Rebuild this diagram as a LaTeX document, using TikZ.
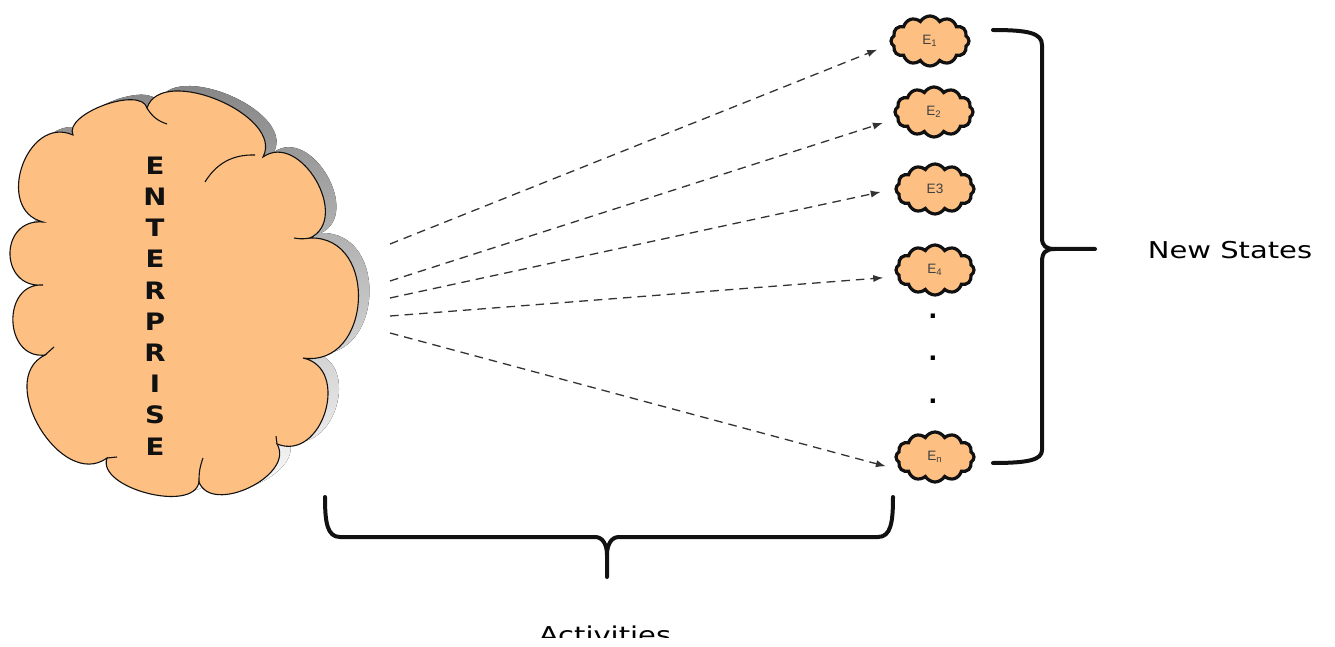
\documentclass[tikz,border=0pt]{standalone}
\usepackage{fontspec}
\setmainfont{DejaVu Sans}
\newfontfamily\labelfont{Liberation Sans}
\usetikzlibrary{arrows.meta,positioning,shapes.symbols}
\definecolor{ink}{HTML}{111111}
\definecolor{peach}{HTML}{FDBF82}
\definecolor{shade}{HTML}{7A7A7A}
\definecolor{dashgray}{HTML}{333333}
\tikzset{
  bump/.style={bend left=95,looseness=#1},
  outline/.style={draw=ink,line width=.55pt},
  puff/.style={cloud,cloud puffs=12,cloud puff arc=120,aspect=1.55,draw=ink,fill=peach,line width=1.6pt,
    minimum width=39pt,minimum height=25pt,inner sep=0pt,font=\labelfont\fontsize{6.8}{8}\selectfont,text=black!75},
  flow/.style={-{Latex[length=5pt,width=3.6pt]},dash pattern=on 4.3pt off 3pt,line width=.65pt,color=dashgray,shorten >=7pt},
  brace/.style={line width=2pt,line cap=round,line join=round,color=ink},
  caption/.style={font=\fontsize{11.6}{13}\selectfont,xscale=1.25,inner sep=0pt},
  letters/.style={font=\bfseries\fontsize{12}{15.6}\selectfont,align=center,xscale=1.15,text=ink,inner sep=0pt},
  dot/.style={font=\bfseries\fontsize{12}{12}\selectfont,inner sep=0pt},
}
\newcommand{\bigcloud}{(73,135) to[bump=.76] (147,108) to[bump=.95] (263,157) to[bump=1.25] (310,238)
  to[bump=1.48] (303,358) to[bump=1.4] (277,444) to[bump=1.07] (199,482) to[bump=.86] (107,458)
  to[bump=1.2] (45,355) to[bump=1.52] (43,285) to[bump=1.8] (43,222) to[bump=1.41] (73,135) -- cycle}

\begin{document}
\begin{tikzpicture}[x=0.5pt,y=-0.5pt]
  \useasboundingbox (0,0) rectangle (1335,647);

  % enterprise cloud with its shadow
  \fill[shade,shift={(11,-5)}] \bigcloud;
  \fill[peach] \bigcloud;
  \draw[outline] \bigcloud;
  \draw[outline] (147,108) to[bend right=20] (167,124);
  \draw[outline] (205,182) to[bend left=30] (255,155);
  \draw[outline] (310,238) to[bend left=10] (294,238);
  \draw[outline] (277,444) -- (276,436);
  \draw[outline] (199,482) to[bend left=10] (203,458);
  \draw[outline] (107,458) -- (117,457);
  \draw[outline] (45,355) -- (54,347);
  \node[letters] (ent) at (155,306) {E\\N\\T\\E\\R\\P\\R\\I\\S\\E};

  % new states
  \node[puff] (e1) at (930,41) {E\textsubscript{1}};
  \node[puff] (e2) at (934,112) {E\textsubscript{2}};
  \node[puff] (e3) at (935,189) {E3};
  \node[puff] (e4) at (935,270) {E\textsubscript{4}};
  \node[puff] (en) at (935,457) {E\textsubscript{n}};
  \node[dot] (d1) at (933,316) {.};
  \node[dot] (d2) at (933,358) {.};
  \node[dot] (d3) at (933,401) {.};

  % activities
  \coordinate (s1) at (390,244);
  \coordinate (s2) at (390,281);
  \coordinate (s3) at (390,298);
  \coordinate (s4) at (390,316);
  \coordinate (s5) at (390,333);
  \draw[flow] (s1) -- (e1.185);
  \draw[flow] (s2) -- (e2.190);
  \draw[flow] (s3) -- (e3.west);
  \draw[flow] (s4) -- (e4.190);
  \draw[flow] (s5) -- (en.200);

  % braces
  \draw[brace] (993,30) .. controls (1028,30) and (1042,33) .. (1042,45) -- (1042,238)
    .. controls (1042,246) and (1046,249) .. (1055,249) -- (1095,249);
  \draw[brace] (1055,249) .. controls (1046,249) and (1042,252) .. (1042,262) -- (1042,450)
    .. controls (1042,460) and (1028,463) .. (993,463);
  \draw[brace] (325,497) .. controls (325,522) and (327,537) .. (340,537) -- (595,537)
    .. controls (603,537) and (607,545) .. (607,555) -- (607,577);
  \draw[brace] (607,555) .. controls (607,545) and (611,537) .. (619,537) -- (878,537)
    .. controls (891,537) and (893,522) .. (893,497);

  \node[caption,anchor=base] (ns) at (1230,258) {New States};
  \begin{scope}
    \clip (0,0) rectangle (1335,637);
    \node[caption,anchor=base] (act) at (605,643) {Activities};
  \end{scope}
\end{tikzpicture}
\end{document}
